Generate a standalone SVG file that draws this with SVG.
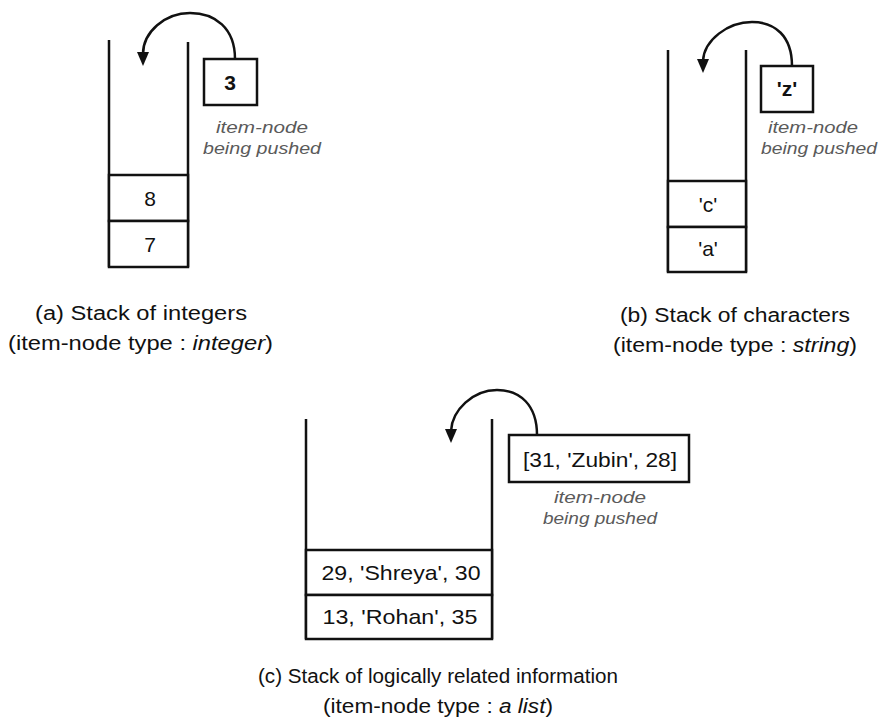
<svg xmlns="http://www.w3.org/2000/svg" width="878" height="722" viewBox="0 0 878 722">
<defs>
<style>
.w{stroke:#111;stroke-width:2.5;fill:none}
.c{stroke:#111;stroke-width:2.5;fill:#fff}
.a{stroke:#111;stroke-width:2.5;fill:none}
.t{font-family:"Liberation Sans",Arial,sans-serif;fill:#111;text-anchor:middle}
.b{font-weight:bold;font-size:21px}
.v{font-size:21px}
.n{font-family:"Liberation Sans",Arial,sans-serif;font-style:italic;font-size:16px;fill:#5a5a5a;text-anchor:middle}
.cap{font-family:"Liberation Sans",Arial,sans-serif;font-size:20px;fill:#111}
</style>
</defs>
<rect width="878" height="722" fill="#fff"/>

<g id="connectors">
<path class="a" d="M235,59 C235,28 215,13 190,13 C165,13 143,32 143,54"/>
<path d="M137,52 L149,52 L143,66 Z" fill="#111"/>
<path class="a" d="M792,66 C792,36 775,22 752,22 C728,22 704,40 703,61"/>
<path d="M697,59 L709,59 L703,73 Z" fill="#111"/>
<path class="a" d="M537,435 C537,405 520,390 497,390 C473,390 452,410 451,431"/>
<path d="M445,429 L457,429 L451,443 Z" fill="#111"/>
</g>

<g id="stack-a">
<path class="w" d="M109,40 V267 M188,42 V267"/>
<rect class="c" x="109" y="175" width="79" height="46"/>
<rect class="c" x="109" y="221" width="79" height="46"/>
<text class="t v" x="150" y="206">8</text>
<text class="t v" x="150" y="252">7</text>
</g>
<g id="item-a">
<rect class="c" x="204" y="59" width="53" height="46"/>
<text class="t b" x="230" y="90">3</text>
<text class="n" x="262" y="133" textLength="92" lengthAdjust="spacingAndGlyphs">item-node</text>
<text class="n" x="262" y="154" textLength="118" lengthAdjust="spacingAndGlyphs">being pushed</text>
</g>
<g id="caption-a">
<text class="cap" x="35" y="320" textLength="212" lengthAdjust="spacingAndGlyphs">(a) Stack of integers</text>
<text class="cap" x="8" y="350" textLength="265" lengthAdjust="spacingAndGlyphs">(item-node type : <tspan font-style="italic">integer</tspan>)</text>
</g>

<g id="stack-b">
<path class="w" d="M668,50 V272 M746,50 V272"/>
<rect class="c" x="668" y="181" width="78" height="46"/>
<rect class="c" x="668" y="227" width="78" height="45"/>
<text class="t v" x="708" y="212">'c'</text>
<text class="t v" x="708" y="256">'a'</text>
</g>
<g id="item-b">
<rect class="c" x="761" y="66" width="52" height="46"/>
<text class="t b" x="787" y="96">'z'</text>
<text class="n" x="813" y="133" textLength="90" lengthAdjust="spacingAndGlyphs">item-node</text>
<text class="n" x="819" y="154" textLength="116" lengthAdjust="spacingAndGlyphs">being pushed</text>
</g>
<g id="caption-b">
<text class="cap" x="620" y="322" textLength="230" lengthAdjust="spacingAndGlyphs">(b) Stack of characters</text>
<text class="cap" x="613" y="352" textLength="244" lengthAdjust="spacingAndGlyphs">(item-node type : <tspan font-style="italic">string</tspan>)</text>
</g>

<g id="stack-c">
<path class="w" d="M306,419 V639 M492,419 V639"/>
<rect class="c" x="306" y="550" width="186" height="45"/>
<rect class="c" x="306" y="595" width="186" height="44"/>
<text class="t v" x="401" y="580" textLength="159" lengthAdjust="spacingAndGlyphs">29, 'Shreya', 30</text>
<text class="t v" x="400" y="624" textLength="155" lengthAdjust="spacingAndGlyphs">13, 'Rohan', 35</text>
</g>
<g id="item-c">
<rect class="c" x="509" y="435" width="180" height="47"/>
<text class="t v" x="600" y="467" textLength="154" lengthAdjust="spacingAndGlyphs">[31, 'Zubin', 28]</text>
<text class="n" x="600" y="503" textLength="92" lengthAdjust="spacingAndGlyphs">item-node</text>
<text class="n" x="600" y="524" textLength="114" lengthAdjust="spacingAndGlyphs">being pushed</text>
</g>
<g id="caption-c">
<text class="cap" x="258" y="683" font-size="21px" textLength="360" lengthAdjust="spacingAndGlyphs">(c)  Stack of logically related information</text>
<text class="cap" x="323" y="713" textLength="230" lengthAdjust="spacingAndGlyphs">(item-node type : <tspan font-style="italic">a list</tspan>)</text>
</g>
</svg>
